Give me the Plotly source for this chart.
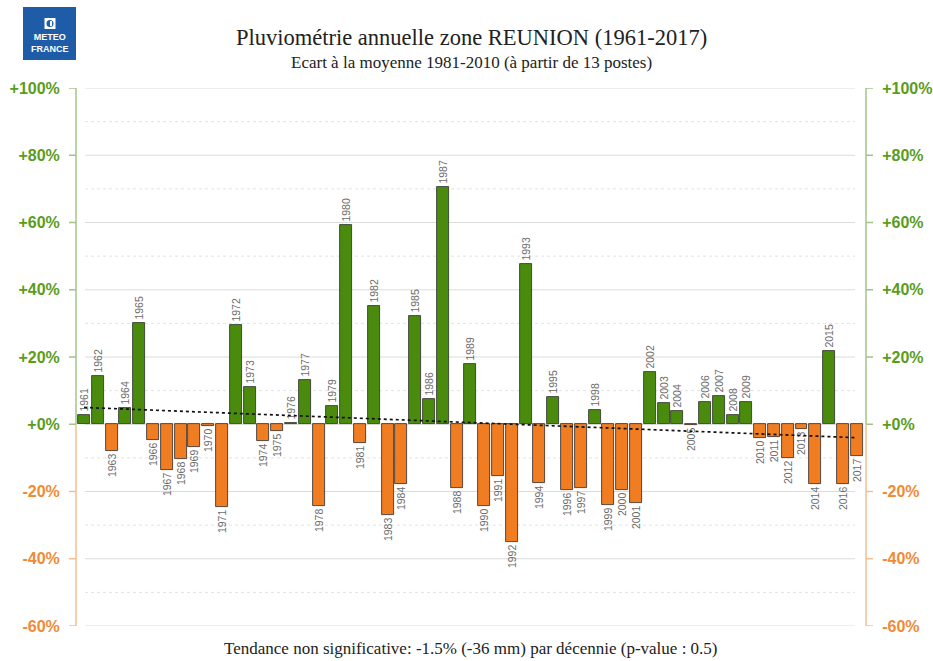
import plotly.graph_objects as go

years = list(range(1961, 2018))
ecart = [2.7, 14.3, -7.9, 4.9, 30.0, -4.8, -13.5, -10.4, -6.7, -0.4,
         -24.6, 29.4, 11.0, -4.9, -1.9, 0.4, 13.1, -24.4, 5.4, 59.3,
         -5.6, 35.1, -27.1, -17.7, 32.2, 7.6, 70.6, -18.9, 18.0, -24.3,
         -15.4, -35.0, 47.7, -17.4, 8.1, -19.6, -18.9, 4.3, -24.1, -19.6,
         -23.3, 15.4, 6.4, 3.8, -0.2, 6.5, 8.5, 2.8, 6.7, -4.1,
         -3.7, -9.9, -1.4, -17.8, 21.9, -17.8, -9.3]
trend_years = [1961, 2017]
trend_values = [5.0, -4.0]
tick_values = [-60, -40, -20, 0, 20, 40, 60, 80, 100]
minor_values = [-50, -30, -10, 10, 30, 50, 70, 90]

GREEN = '#4a8b0e'
ORANGE = '#f07d22'
GREEN_TXT = '#5a9c1c'
ORANGE_TXT = '#ef8a36'
GREEN_AX = '#a3c486'
ORANGE_AX = '#f2be92'
LOGO_BLUE = '#1f5ca8'

# plot area in pixels: x 76..866, y 88..626
def px(x):
    return (x - 76) / 790.0

def py(y):
    return (626 - y) / 538.0


def tick_label(v):
    col = GREEN_TXT if v >= 0 else ORANGE_TXT
    txt = ('+%d%%' % v) if v >= 0 else ('%d%%' % v)
    return '<span style="color:%s"><b>%s</b></span>' % (col, txt)


fig = go.Figure()
fig.add_trace(go.Bar(x=years, y=ecart, width=0.86,
                     marker=dict(color=[GREEN if v >= 0 else ORANGE for v in ecart],
                                 line=dict(color='#2b2b2b', width=0.8)),
                     text=[str(y) for y in years], textposition='outside',
                     textangle=-90, constraintext='none', cliponaxis=False,
                     textfont=dict(family='Liberation Sans', size=10.5, color='#6b6b6b'),
                     hoverinfo='x+y'))
fig.add_trace(go.Scatter(x=trend_years, y=trend_values, mode='lines',
                         line=dict(color='#111111', width=1.7, dash='dot'),
                         hoverinfo='skip'))
# dummy trace to carry right axis
fig.add_trace(go.Scatter(x=[years[0]], y=[0], yaxis='y2', mode='markers',
                         marker=dict(opacity=0), hoverinfo='skip'))

shapes = []
for v in tick_values:
    shapes.append(dict(type='line', xref='paper', yref='y', x0=px(85), x1=px(855), y0=v, y1=v,
                       line=dict(color='#dcdcdc', width=1), layer='below'))
for v in minor_values:
    shapes.append(dict(type='line', xref='paper', yref='y', x0=px(85), x1=px(855), y0=v, y1=v,
                       line=dict(color='#e2e2e2', width=1, dash='dot'), layer='below'))
for xp, d in [(0, -1), (1, 1)]:
    shapes.append(dict(type='line', xref='paper', yref='y', x0=xp, x1=xp, y0=0, y1=100,
                       line=dict(color=GREEN_AX, width=1.5)))
    shapes.append(dict(type='line', xref='paper', yref='y', x0=xp, x1=xp, y0=-60, y1=0,
                       line=dict(color=ORANGE_AX, width=1.5)))
    for v in tick_values:
        shapes.append(dict(type='line', xref='paper', yref='y', x0=xp, x1=xp + d * 7 / 790,
                           y0=v, y1=v, line=dict(color=GREEN_AX if v >= 0 else ORANGE_AX, width=1.5)))

# logo
shapes.append(dict(type='rect', xref='paper', yref='paper', x0=px(23), x1=px(76), y0=py(60), y1=py(7),
                   fillcolor=LOGO_BLUE, line=dict(width=0)))
shapes.append(dict(type='rect', xref='paper', yref='paper', x0=px(44.5), x1=px(55.5), y0=py(29), y1=py(18),
                   fillcolor='white', line=dict(width=0)))
shapes.append(dict(type='circle', xref='paper', yref='paper', x0=px(46.5), x1=px(53.5), y0=py(27), y1=py(20),
                   fillcolor=LOGO_BLUE, line=dict(width=0)))
shapes.append(dict(type='rect', xref='paper', yref='paper', x0=px(50), x1=px(52), y0=py(26), y1=py(21),
                   fillcolor='white', line=dict(width=0)))

annotations = [
    dict(text='Pluviométrie annuelle zone REUNION (1961-2017)', xref='paper', yref='paper',
         x=0.5, y=py(37), showarrow=False, xanchor='center', yanchor='middle',
         font=dict(family='Liberation Serif', size=22.5, color='#222222')),
    dict(text='Ecart à la moyenne 1981-2010 (à partir de 13 postes)', xref='paper', yref='paper',
         x=0.5, y=py(63), showarrow=False, xanchor='center', yanchor='middle',
         font=dict(family='Liberation Serif', size=17, color='#222222')),
    dict(text='Tendance non significative: -1.5% (-36 mm) par décennie (p-value : 0.5)',
         xref='paper', yref='paper', x=0.5, y=py(648), showarrow=False,
         xanchor='center', yanchor='middle',
         font=dict(family='Liberation Serif', size=17, color='#222222')),
    dict(text='<b>METEO<br>FRANCE</b>', xref='paper', yref='paper', x=px(49.5), y=py(42.5),
         showarrow=False, xanchor='center', yanchor='middle',
         font=dict(family='Liberation Sans', size=9, color='white')),
]

fig.update_layout(
    width=933, height=661, showlegend=False, bargap=0,
    plot_bgcolor='white', paper_bgcolor='white',
    margin=dict(l=76, r=67, t=88, b=35, autoexpand=False),
    shapes=shapes, annotations=annotations,
    xaxis=dict(range=[1960.42, 2017.67], visible=False, fixedrange=True, automargin=False),
    yaxis=dict(range=[-60, 100], tickvals=tick_values, ticktext=[tick_label(v) for v in tick_values],
               showgrid=False, zeroline=False, showline=False, ticks='outside', ticklen=12,
               tickcolor='rgba(0,0,0,0)', tickfont=dict(family='Liberation Sans', size=16),
               automargin=False),
    yaxis2=dict(range=[-60, 100], overlaying='y', side='right', tickvals=tick_values,
                ticktext=[tick_label(v) for v in tick_values], showgrid=False, zeroline=False,
                showline=False, ticks='outside', ticklen=12, tickcolor='rgba(0,0,0,0)',
                tickfont=dict(family='Liberation Sans', size=16), automargin=False),
)

fig.write_html('out.html', config={'displayModeBar': False},
               post_script="document.body.style.margin='0px';")
